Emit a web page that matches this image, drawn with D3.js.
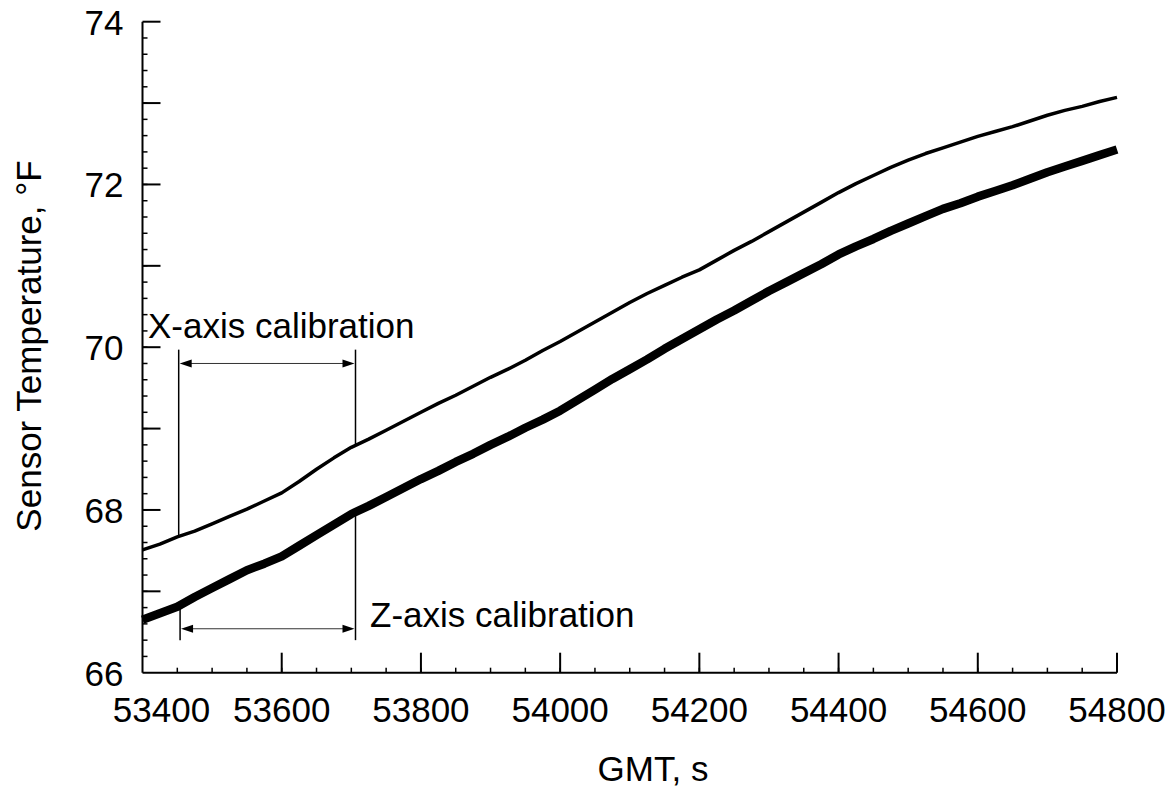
<!DOCTYPE html>
<html>
<head>
<meta charset="utf-8">
<script src="https://cdn.jsdelivr.net/npm/d3@7"></script>
<style>
  body { margin: 0; background: #fff; }
  svg text { font-family: "Liberation Sans", Arial, Helvetica, sans-serif; fill: #000; }
</style>
</head>
<body>
<svg id="chart" width="1175" height="791"></svg>
<script>
// GMT, s -- sampled every 25 s
var times = d3.range(53400, 54801, 25);

// X-axis sensor (thin line)
var xSensor = [
  67.51, 67.58, 67.67, 67.74, 67.83, 67.92, 68.01, 68.11, 68.21, 68.35,
  68.50, 68.64, 68.77, 68.87, 68.98, 69.09, 69.20, 69.31, 69.41, 69.52,
  69.63, 69.73, 69.84, 69.96, 70.07, 70.19, 70.31, 70.43, 70.55, 70.66,
  70.76, 70.86, 70.95, 71.07, 71.19, 71.30, 71.42, 71.54, 71.66, 71.78,
  71.90, 72.01, 72.11, 72.21, 72.30, 72.38, 72.45, 72.52, 72.59, 72.65,
  72.71, 72.78, 72.85, 72.91, 72.96, 73.02, 73.07
];

// Z-axis sensor (thick line)
var zSensor = [
  66.65, 66.73, 66.81, 66.93, 67.04, 67.15, 67.26, 67.34, 67.43, 67.56,
  67.69, 67.82, 67.95, 68.05, 68.16, 68.27, 68.38, 68.48, 68.59, 68.69,
  68.80, 68.90, 69.01, 69.11, 69.22, 69.35, 69.48, 69.61, 69.73, 69.85,
  69.98, 70.10, 70.22, 70.34, 70.45, 70.57, 70.69, 70.80, 70.91, 71.02,
  71.14, 71.24, 71.33, 71.43, 71.52, 71.61, 71.70, 71.77, 71.85, 71.92,
  71.99, 72.07, 72.15, 72.22, 72.29, 72.36, 72.43
];

var xTicks = [53400, 53600, 53800, 54000, 54200, 54400, 54600, 54800];
var yTicks = [66, 68, 70, 72, 74];

// calibration windows, s
var xCal = [53452, 53706];
var zCal = [53454, 53706];

var svg = d3.select("#chart");

var x = d3.scaleLinear().domain([53400, 54800]).range([142.5, 1117]);
var y = d3.scaleLinear().domain([66, 74]).range([672.7, 21.7]);

// Axes: ticks drawn inward
var bottom = svg.append("g").attr("transform", "translate(0," + y(66) + ")");
bottom.append("line").attr("x1", x(53400)).attr("x2", x(54800))
  .attr("stroke", "#000").attr("stroke-width", 2);
bottom.selectAll("line.minor").data(d3.range(53450, 54800, 50))
  .enter().append("line").attr("class", "minor")
  .attr("x1", x).attr("x2", x).attr("y1", 0).attr("y2", -5)
  .attr("stroke", "#000").attr("stroke-width", 1.5);
bottom.selectAll("line.major").data(xTicks.slice(1))
  .enter().append("line").attr("class", "major")
  .attr("x1", x).attr("x2", x).attr("y1", 0).attr("y2", -20)
  .attr("stroke", "#000").attr("stroke-width", 2);
// first label is nudged right, clear of the "66"
bottom.selectAll("text").data(xTicks).enter().append("text")
  .attr("x", function (d, i) { return x(d) + (i === 0 ? 19 : 0); })
  .attr("y", 49).attr("text-anchor", "middle")
  .style("font-size", "35px").text(function (d) { return d; });

var left = svg.append("g").attr("transform", "translate(" + x(53400) + ",0)");
left.append("line").attr("y1", y(66)).attr("y2", y(74))
  .attr("stroke", "#000").attr("stroke-width", 2);
left.selectAll("line.minor").data(d3.range(66.2, 74, 0.2))
  .enter().append("line").attr("class", "minor")
  .attr("y1", y).attr("y2", y).attr("x1", 0).attr("x2", 5)
  .attr("stroke", "#000").attr("stroke-width", 1.5);
left.selectAll("line.major").data(d3.range(67, 74.5, 1))
  .enter().append("line").attr("class", "major")
  .attr("y1", y).attr("y2", y).attr("x1", 0).attr("x2", 18)
  .attr("stroke", "#000").attr("stroke-width", 2);
left.selectAll("text").data(yTicks).enter().append("text")
  .attr("x", -19).attr("y", function (d) { return y(d) + 13; })
  .attr("text-anchor", "end")
  .style("font-size", "35px").text(function (d) { return d; });

svg.append("text").attr("x", 653).attr("y", 781).attr("text-anchor", "middle")
  .style("font-size", "35px").text("GMT, s");
svg.append("text").attr("transform", "translate(41,346) rotate(-90)")
  .attr("text-anchor", "middle")
  .style("font-size", "35px").text("Sensor Temperature, \u00b0F");

// Sensor traces
var line = d3.line()
  .x(function (d) { return x(d[0]); })
  .y(function (d) { return y(d[1]); });

var xData = times.map(function (t, i) { return [t, xSensor[i]]; });
var zData = times.map(function (t, i) { return [t, zSensor[i]]; });

svg.append("path").datum(zData).attr("d", line)
  .attr("fill", "none").attr("stroke", "#000").attr("stroke-width", 8.5)
  .attr("stroke-linejoin", "round");
svg.append("path").datum(xData).attr("d", line)
  .attr("fill", "none").attr("stroke", "#000").attr("stroke-width", 3.5)
  .attr("stroke-linejoin", "round");

// value of a trace at time t
var valueAt = function (values, t) {
  var f = d3.scaleLinear().domain(times).range(values);
  return f(t);
};

// Calibration brackets
var arrowHead = function (g, px, py, dir) {
  g.append("path")
    .attr("d", "M" + px + "," + py + " l" + (-12 * dir) + ",-4 l0,8 z")
    .attr("fill", "#000");
};

var bracket = function (range, yTop, yBottom, yArrow) {
  var g = svg.append("g");
  range.forEach(function (t, i) {
    g.append("line").attr("x1", x(t)).attr("x2", x(t))
      .attr("y1", y(yTop(t))).attr("y2", y(yBottom(t)))
      .attr("stroke", "#000").attr("stroke-width", 1.5);
  });
  g.append("line").attr("x1", x(range[0]) + 4).attr("x2", x(range[1]) - 4)
    .attr("y1", y(yArrow)).attr("y2", y(yArrow))
    .attr("stroke", "#333").attr("stroke-width", 1);
  arrowHead(g, x(range[0]) + 1, y(yArrow), -1);
  arrowHead(g, x(range[1]) - 1, y(yArrow), 1);
};

bracket(xCal, function () { return 69.97; },
  function (t) { return valueAt(xSensor, t); }, 69.8);
bracket(zCal, function (t) { return valueAt(zSensor, t); },
  function () { return 66.4; }, 66.54);

svg.append("text").attr("x", 148).attr("y", 338)
  .style("font-size", "35px").text("X-axis calibration");
svg.append("text").attr("x", 370).attr("y", 627)
  .style("font-size", "35px").text("Z-axis calibration");
</script>
</body>
</html>
